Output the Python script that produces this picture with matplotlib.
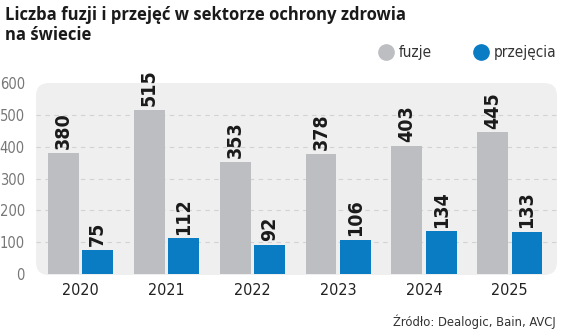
import matplotlib
matplotlib.use('Agg')
import matplotlib.pyplot as plt
from matplotlib.patches import FancyBboxPatch
from matplotlib.lines import Line2D
import numpy as np

years = ['2020', '2021', '2022', '2023', '2024', '2025']
fuzje = [380, 515, 353, 378, 403, 445]
przejecia = [75, 112, 92, 106, 134, 133]
yticks = [0, 100, 200, 300, 400, 500, 600]

title_lines = ['Liczba fuzji i przejęć w sektorze ochrony zdrowia', 'na świecie']
source = 'Źródło: Dealogic, Bain, AVCJ'

GREY = '#bdbec2'
BLUE = '#0a7cc4'
PANEL = '#efefef'
COND = dict(family='DejaVu Sans', fontstretch='condensed')

W, H = 564, 334
fig = plt.figure(figsize=(W / 100, H / 100), dpi=100)

ax = fig.add_axes([36 / W, 59 / H, (557 - 36) / W, (251 - 59) / H])
ax.patch.set_visible(False)
ax.set_xlim(-0.52, 5.55)
ax.set_ylim(-3, 600)
for s in ax.spines.values():
    s.set_visible(False)

# rounded panel behind the bars
panel = FancyBboxPatch((0, 0), 1, 1, boxstyle='round,pad=0,rounding_size=0.025',
                       transform=ax.transAxes, facecolor=PANEL,
                       edgecolor='none', zorder=0, mutation_aspect=2.7)
ax.add_patch(panel)

x = np.arange(len(years))
bw = 0.36
off = 0.2
ax.bar(x - off, fuzje, bw, color=GREY, zorder=3)
ax.bar(x + off, przejecia, bw, color=BLUE, zorder=3)

for yv in yticks[1:-1]:
    ax.axhline(yv, color='#d2d2d2', lw=0.8, ls=(0, (4, 4)), zorder=1)

for xi, v in zip(x - off, fuzje):
    ax.text(xi, v + 12, str(v), rotation=90, ha='center', va='bottom',
            fontsize=14, fontweight='bold', color='#1a1a1a', **COND)
for xi, v in zip(x + off, przejecia):
    ax.text(xi, v + 12, str(v), rotation=90, ha='center', va='bottom',
            fontsize=14, fontweight='bold', color='#1a1a1a', **COND)

ax.set_xticks(x)
ax.set_xticklabels(years, fontsize=11.5, color='#222222', **COND)
ax.set_yticks(yticks)
ax.set_yticklabels([str(v) for v in yticks], fontsize=10.5,
                   color='#777777', **COND)
ax.tick_params(length=0)
ax.tick_params(axis='x', pad=6)
ax.tick_params(axis='y', pad=8)

for i, line in enumerate(title_lines):
    fig.text(5 / W, 1 - (19.5 + 21 * i) / H, line, ha='left', va='baseline',
             fontsize=12, fontweight='bold', color='#1a1a1a',
             family=['Open Sans', 'DejaVu Sans'])

# legend
fig.add_artist(Line2D([386 / W], [1 - 52 / H], transform=fig.transFigure,
                      marker='o', ms=11, color=GREY, ls='none'))
fig.text(399 / W, 1 - 52 / H, 'fuzje', ha='left', va='center', fontsize=11,
         color='#333333', **COND)
fig.add_artist(Line2D([481 / W], [1 - 52 / H], transform=fig.transFigure,
                      marker='o', ms=11, color=BLUE, ls='none'))
fig.text(494 / W, 1 - 52 / H, 'przejęcia', ha='left', va='center', fontsize=11,
         color='#333333', **COND)

fig.text(556 / W, 1 - 322 / H, source, ha='right', va='center', fontsize=9.3,
         color='#333333', **COND)

fig.savefig('out.png', dpi=100)
